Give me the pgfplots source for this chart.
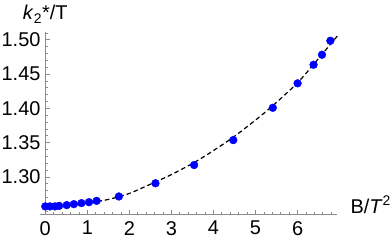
\documentclass[border=0pt]{standalone}
\usepackage{fontspec}
\setmainfont{Liberation Sans}
\usepackage{pgfplots}
\pgfplotsset{compat=1.18}
\begin{document}
\fontsize{20}{24}\selectfont
\begin{tikzpicture}
\begin{axis}[
  scale only axis,
  width=296.7bp, height=182.3bp,
  xmin=-0.125, xmax=6.93,
  ymin=1.2455, ymax=1.5115,
  axis x line=bottom,
  axis y line=middle,
  axis line style={black!45, line width=0.8bp, -},
  tick style={black!45, line width=0.8bp},
  tick align=inside,
  major tick length=4.5bp,
  minor tick length=2.5bp,
  xtick={0,1,2,3,4,5,6},
  minor xtick={0.2,0.4,0.6,0.8,1.2,1.4,1.6,1.8,2.2,2.4,2.6,2.8,3.2,3.4,3.6,3.8,4.2,4.4,4.6,4.8,5.2,5.4,5.6,5.8,6.2,6.4,6.6,6.8},
  ytick={1.30,1.35,1.40,1.45,1.50},
  minor ytick={1.25,1.26,1.27,1.28,1.29,1.31,1.32,1.33,1.34,1.36,1.37,1.38,1.39,1.41,1.42,1.43,1.44,1.46,1.47,1.48,1.49,1.51},
  /pgf/number format/assume math mode=true,
  yticklabel style={/pgf/number format/.cd, fixed, fixed zerofill, precision=2, /tikz/.cd, xshift=2bp},
  xticklabel style={/pgf/number format/.cd, fixed, precision=0},
  ticklabel style={font=\fontsize{20}{24}\selectfont, text=black},
  xlabel={B/\textit{T}\textsuperscript{2}},
  ylabel={\textit{k}\textsubscript{2}*/T},
  every axis x label/.style={at={(axis description cs:1,0)}, anchor=base west, xshift=7bp, yshift=1bp, font=\fontsize{20}{24}\selectfont},
  every axis y label/.style={at={(axis description cs:0.0177,1)}, anchor=base, yshift=12bp, font=\fontsize{20}{24}\selectfont},
  clip=false,
]
\addplot[black, line width=1.2bp, dash pattern=on 4.5bp off 3bp, smooth] coordinates {
(0,1.2570) (0.5,1.2583) (1.0,1.2618) (1.5,1.2672) (2.0,1.2760) (2.63,1.2930)
(3.0,1.3035) (3.54,1.3210) (4.0,1.3385) (4.47,1.3580) (5.0,1.3830) (5.41,1.4040)
(6.0,1.4375) (6.5,1.4730) (6.95,1.5060)
};
\addplot[only marks, mark=*, mark size=3.9bp, blue, mark options={draw=blue, fill=blue}] coordinates {
(0,1.2570) (0.11,1.2570) (0.23,1.2570) (0.33,1.2578) (0.51,1.2589) (0.68,1.2603)
(0.86,1.2618) (1.04,1.2632) (1.22,1.2651) (1.75,1.2715) (2.62,1.2908) (3.54,1.3174)
(4.47,1.3538) (5.41,1.4009) (6.00,1.4366) (6.38,1.4637) (6.58,1.4783) (6.78,1.4987)
};
\coordinate (SW) at (rel axis cs:0,0);
\coordinate (NE) at (rel axis cs:1,1);
\end{axis}
\pgfresetboundingbox
\path ([shift={(-40bp,-28.7bp)}]SW) rectangle ([shift={(53.3bp,32bp)}]NE);
\end{tikzpicture}
\end{document}
